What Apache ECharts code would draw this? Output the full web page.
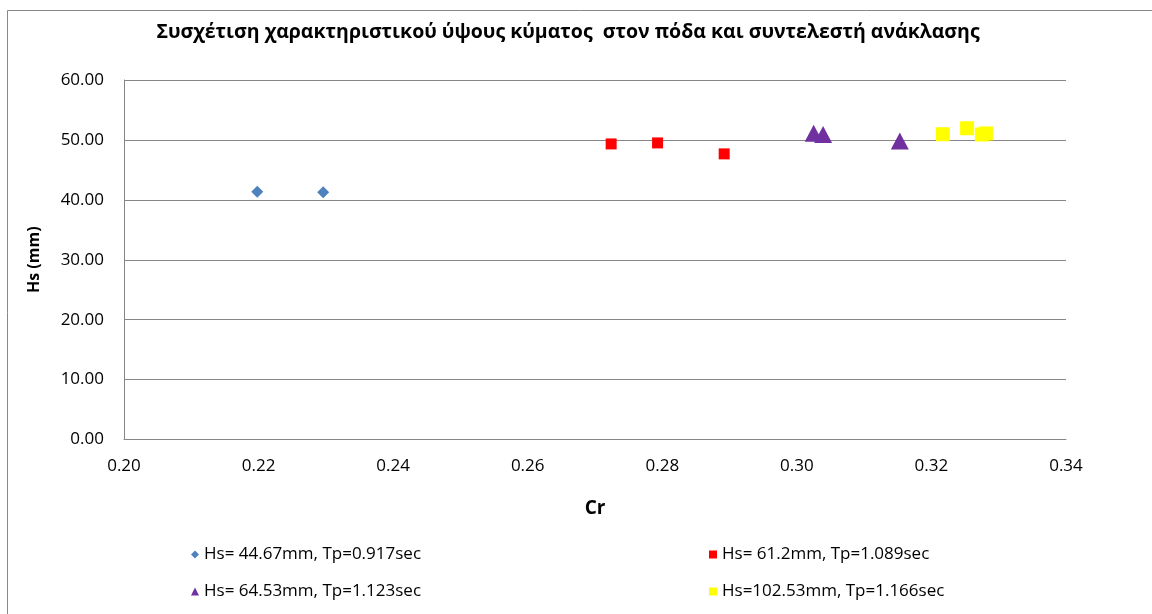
<!DOCTYPE html>
<html><head><meta charset="utf-8">
<script src="https://cdn.jsdelivr.net/npm/echarts@6/dist/echarts.min.js"></script>
<style>html,body{margin:0;padding:0;background:#fff}#c{width:1152px;height:614px}</style>
</head><body><div id="c"></div>
<script>
const seriesNames = ['Hs= 44.67mm, Tp=0.917sec','Hs= 61.2mm, Tp=1.089sec','Hs= 64.53mm, Tp=1.123sec','Hs=102.53mm, Tp=1.166sec'];
const crA = [0.2198, 0.2296];
const hsA = [41.33, 41.27];
const crB = [0.2724, 0.2793, 0.2892];
const hsB = [49.33, 49.50, 47.67];
const crC = [0.3025, 0.3039, 0.3153];
const hsC = [51.1, 50.9, 49.8];
const crD = [0.3217, 0.3253, 0.3275, 0.3281];
const hsD = [50.95, 51.95, 50.9, 51.08];
const xTicks = [0.20,0.22,0.24,0.26,0.28,0.30,0.32,0.34];
const yTicks = [0,10,20,30,40,50,60];

const pairs = (xs, ys) => xs.map((x,i)=>[x, ys[i]]);
const font = 'Open Sans';
const chart = echarts.init(document.getElementById('c'));
const legendText = {fontFamily:font, fontSize:17, color:'#000'};
const legendPos = [[186,541],[704,541],[186,578],[704,578]];
chart.setOption({
  animation:false,
  backgroundColor:'#fff',
  title:{text:'Συσχέτιση χαρακτηριστικού ύψους κύματος  στον πόδα και συντελεστή ανάκλασης', left:563, top:17, textAlign:'center',
    textStyle:{fontFamily:font, fontWeight:'bold', fontSize:19.5, color:'#000'}},
  graphic:[{type:'rect', shape:{x:7.5,y:10.5,width:1160,height:620}, style:{fill:null, stroke:'#888', lineWidth:1}, silent:true}],
  grid:{left:124, right:86, top:80, bottom:174.5, containLabel:false},
  legend:seriesNames.map((n,i)=>({data:[n], left:legendPos[i][0], top:legendPos[i][1], itemWidth:8, itemHeight:8, textStyle:legendText, selectedMode:false})),
  xAxis:{type:'value', min:xTicks[0], max:xTicks[xTicks.length-1], interval:0.02,
    name:'Cr', nameLocation:'middle', nameGap:60, nameTextStyle:{fontFamily:font, fontWeight:'bold', fontSize:19, color:'#000'},
    axisLine:{show:true, onZero:false, lineStyle:{color:'#868686'}}, axisTick:{show:false},
    splitLine:{show:false},
    axisLabel:{fontFamily:font, fontSize:17, color:'#000', margin:18, formatter:v=>v.toFixed(2)}},
  yAxis:{type:'value', min:yTicks[0], max:yTicks[yTicks.length-1], interval:10,
    name:'Hs (mm)', nameLocation:'middle', nameGap:82, nameTextStyle:{fontFamily:font, fontWeight:'bold', fontSize:16, color:'#000'},
    axisLine:{show:true, lineStyle:{color:'#868686'}}, axisTick:{show:false},
    splitLine:{show:true, lineStyle:{color:'#868686', width:1}},
    axisLabel:{fontFamily:font, fontSize:17, color:'#000', margin:20, formatter:v=>v.toFixed(2)}},
  series:[
    {name:seriesNames[0], type:'scatter', symbol:'diamond', symbolSize:12, itemStyle:{color:'#4F81BD', opacity:1}, data:pairs(crA,hsA)},
    {name:seriesNames[1], type:'scatter', symbol:'rect', symbolSize:11, itemStyle:{color:'#FF0000', opacity:1}, data:pairs(crB,hsB)},
    {name:seriesNames[2], type:'scatter', symbol:'triangle', symbolSize:[18,17], itemStyle:{color:'#7030A0', opacity:1}, data:pairs(crC,hsC)},
    {name:seriesNames[3], type:'scatter', symbol:'rect', symbolSize:14, itemStyle:{color:'#FFFF00', opacity:1}, data:pairs(crD,hsD)}
  ]
});
</script></body></html>
